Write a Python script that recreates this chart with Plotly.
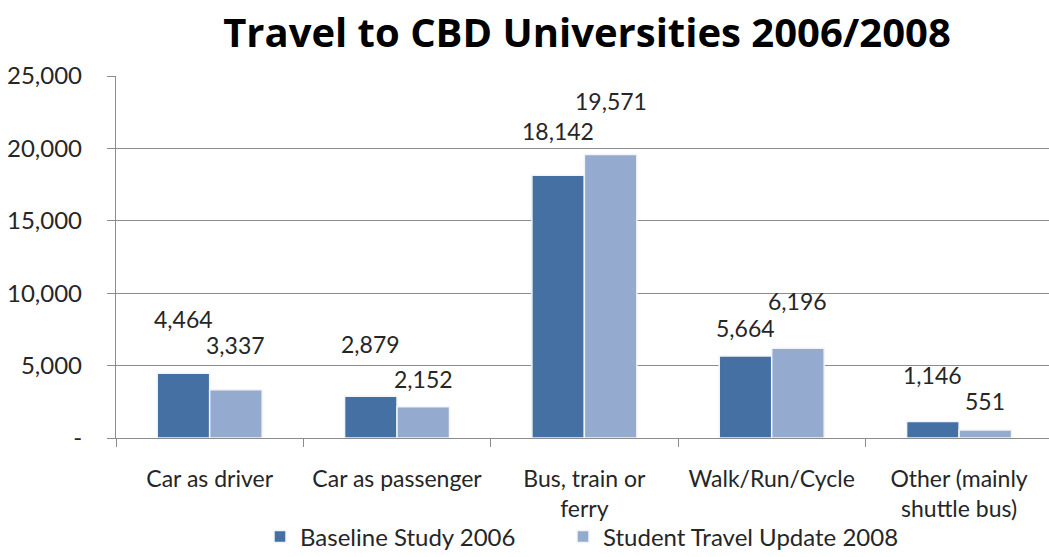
import plotly.graph_objects as go

# Travel mode counts, CBD universities
categories = ["Car as driver", "Car as passenger", "Bus, train or<br>ferry",
              "Walk/Run/Cycle", "Other (mainly<br>shuttle bus)"]
baseline_2006 = [4464, 2879, 18142, 5664, 1146]
update_2008 = [3337, 2152, 19571, 6196, 551]
series_names = ["Baseline Study 2006", "Student Travel Update 2008"]

y_tickvals = [0, 5000, 10000, 15000, 20000, 25000]
y_ticktext = ["-", "5,000", "10,000", "15,000", "20,000", "25,000"]

# pixel lift of each value label above its bar (labels were placed by hand)
lift_2006 = [54, 52, 44, 28, 46]
lift_2008 = [45, 28, 54, 47, 29]

DARK = "#4470A3"
LIGHT = "#94AACF"
FONT = "Lato, 'Open Sans', sans-serif"
TITLE_FONT = "'Open Sans', Lato, sans-serif"
TEXT = "#262626"
GRID = "#8C8C8C"

fig = go.Figure()
fig.add_trace(go.Bar(x=categories, y=baseline_2006, name=series_names[0],
                     legend="legend",
                     marker=dict(color=DARK, line=dict(color="#F2F4F8", width=1.5))))
fig.add_trace(go.Bar(x=categories, y=update_2008, name=series_names[1],
                     legend="legend2",
                     marker=dict(color=LIGHT, line=dict(color="#F2F4F8", width=1.5))))

# value labels, one per bar, offset to sit over the matching bar of the pair
bar_px = 52.5
for values, lifts, dx in ((baseline_2006, lift_2006, -bar_px / 2),
                          (update_2008, lift_2008, bar_px / 2)):
    for cat, v, lift in zip(categories, values, lifts):
        fig.add_annotation(x=cat, y=v, text=f"{v:,}", showarrow=False,
                           xshift=dx, yshift=lift, yanchor="middle",
                           font=dict(family=FONT, size=23, color=TEXT))

legend_style = dict(orientation="h", xref="container", xanchor="left",
                    yref="container", y=1 - 537 / 557, yanchor="middle",
                    font=dict(family=FONT, size=24, color=TEXT),
                    itemwidth=30, bgcolor="rgba(0,0,0,0)")

fig.update_layout(
    width=1049, height=557,
    margin=dict(l=116, r=0, t=76, b=119, autoexpand=False),
    paper_bgcolor="white", plot_bgcolor="white",
    barmode="group", bargap=0.44, bargroupgap=0.0,
    font=dict(family=FONT, size=23, color=TEXT),
    title=dict(text="<b>Travel to CBD Universities 2006/2008</b>",
               x=587 / 1049, xanchor="center", xref="container",
               y=1 - 33 / 557, yanchor="middle", yref="container",
               font=dict(family=TITLE_FONT, size=40, color="#000000")),
    legend=dict(x=260 / 1049, **legend_style),
    legend2=dict(x=563 / 1049, **legend_style),
    showlegend=True,
)
fig.update_xaxes(range=[-0.5, 4.48], showgrid=False, showline=True,
                 linecolor=GRID, linewidth=1.3, ticks="outside",
                 tickson="boundaries", ticklen=8, tickcolor=GRID,
                 ticklabelstandoff=20, automargin=False,
                 tickfont=dict(family=FONT, size=23, color=TEXT))
fig.update_yaxes(range=[0, 25000], tickvals=y_tickvals, ticktext=y_ticktext,
                 showgrid=True, gridcolor=GRID, gridwidth=1.3,
                 showline=True, linecolor=GRID, linewidth=1.3,
                 ticks="outside", ticklen=8, tickcolor=GRID,
                 zeroline=False, ticklabelstandoff=20, automargin=False,
                 tickfont=dict(family=FONT, size=24, color=TEXT))

fig.write_html("out.html")
